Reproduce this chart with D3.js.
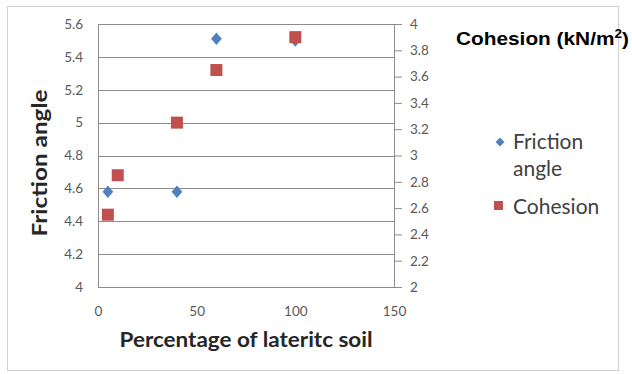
<!DOCTYPE html>
<html><head><meta charset="utf-8">
<script src="https://cdn.jsdelivr.net/npm/d3@7"></script>
<style>body{margin:0;background:#fff}svg{display:block}</style>
</head><body>
<script>
// Data
const frictionX = [5, 40, 60, 100];
const frictionY = [4.58, 4.58, 5.51, 5.5];
const cohesionX = [5, 10, 40, 60, 100];
const cohesionY = [2.55, 2.85, 3.25, 3.65, 3.9];
const xTicks = [0, 50, 100, 150];
const leftTicks = [4, 4.2, 4.4, 4.6, 4.8, 5, 5.2, 5.4, 5.6];
const rightTicks = [2, 2.2, 2.4, 2.6, 2.8, 3, 3.2, 3.4, 3.6, 3.8, 4];
const seriesNames = ["Friction angle", "Cohesion"];

const W = 632, H = 374;
const svg = d3.select("body").append("svg").attr("width", W).attr("height", H);
const font = "Lato, 'Open Sans', sans-serif";

// outer frame
svg.append("rect").attr("x", 7.5).attr("y", 6.5).attr("width", 611).attr("height", 364)
  .attr("fill", "#fff").attr("stroke", "#d0d0d0");

const x = d3.scaleLinear().domain([0, 150]).range([98, 394]);
const yL = d3.scaleLinear().domain([4, 5.6]).range([287, 24]);
const yR = d3.scaleLinear().domain([2, 4]).range([287, 24]);

// gridlines
svg.append("g").selectAll("line").data(leftTicks).join("line")
  .attr("x1", x(0)).attr("x2", x(150))
  .attr("y1", d => Math.round(yL(d)) + 0.5).attr("y2", d => Math.round(yL(d)) + 0.5)
  .attr("stroke", "#8c8c8c").attr("stroke-width", 1);
// plot border
svg.append("rect").attr("x", x(0) + 0.5).attr("y", yL(5.6) + 0.5)
  .attr("width", x(150) - x(0)).attr("height", yL(4) - yL(5.6))
  .attr("fill", "none").attr("stroke", "#8c8c8c");

// left axis labels
const gl = svg.append("g").attr("transform", `translate(${x(0)},0)`)
  .call(d3.axisLeft(yL).tickValues(leftTicks).tickSize(0).tickPadding(15).tickFormat(d3.format("~g")));
gl.select(".domain").remove();
gl.selectAll("text").attr("font-family", font).attr("font-size", 13.5).attr("fill", "#595959");

// right axis
const gr = svg.append("g").attr("transform", `translate(${x(150)},0)`)
  .call(d3.axisRight(yR).tickValues(rightTicks).tickSize(8).tickPadding(8).tickFormat(d3.format("~g")));
gr.select(".domain").attr("stroke", "#8c8c8c");
gr.selectAll(".tick line").attr("stroke", "#8c8c8c");
gr.selectAll("text").attr("font-family", font).attr("font-size", 13.5).attr("fill", "#595959").attr("text-anchor", "start");

// bottom axis labels
const gb = svg.append("g").attr("transform", `translate(0,${yL(4)})`)
  .call(d3.axisBottom(x).tickValues(xTicks).tickSize(0).tickPadding(19));
gb.select(".domain").remove();
gb.selectAll("text").attr("font-family", font).attr("font-size", 13.5).attr("fill", "#595959");

// series
const blue = "#4F81BD", red = "#C0504D";
svg.append("g").selectAll("path").data(frictionX.map((d, i) => [d, frictionY[i]])).join("path")
  .attr("d", d3.symbol(d3.symbolDiamond2, 90)())
  .attr("transform", d => `translate(${x(d[0])},${yL(d[1])}) scale(0.9,1.05)`)
  .attr("fill", blue);
svg.append("g").selectAll("rect").data(cohesionX.map((d, i) => [d, cohesionY[i]])).join("rect")
  .attr("x", d => x(d[0]) - 6).attr("y", d => yR(d[1]) - 6)
  .attr("width", 12).attr("height", 12).attr("fill", red);

// axis titles
svg.append("text").attr("transform", `translate(47,163) rotate(-90)`)
  .attr("text-anchor", "middle").attr("font-family", font).attr("font-weight", "bold")
  .attr("font-size", 21).attr("fill", "#262626")
  .attr("textLength", 147).attr("lengthAdjust", "spacingAndGlyphs").text("Friction angle");
svg.append("text").attr("x", 246).attr("y", 347)
  .attr("text-anchor", "middle").attr("font-family", font).attr("font-weight", "bold")
  .attr("font-size", 21).attr("fill", "#262626")
  .attr("textLength", 253).attr("lengthAdjust", "spacingAndGlyphs").text("Percentage of lateritc soil");

// right axis title
const rt = svg.append("text").attr("x", 0).attr("y", 0)
  .attr("font-family", "'Liberation Sans', Arial, sans-serif").attr("font-weight", "bold")
  .attr("font-size", 18.5).attr("fill", "#000");
rt.append("tspan").text("Cohesion (kN/m");
rt.append("tspan").attr("font-size", 12).attr("dy", -7).text("2");
rt.append("tspan").attr("dy", 7).text(")");
const rtw = rt.node().getBBox().width;
rt.attr("transform", `translate(456,45) scale(${173 / rtw},1)`);

// legend
const lg = svg.append("g").attr("font-family", font).attr("font-size", 21).attr("fill", "#404040");
lg.append("path").attr("d", d3.symbol(d3.symbolDiamond2, 50)())
  .attr("transform", "translate(500,142)").attr("fill", blue);
lg.append("text").attr("x", 513).attr("y", 149).text("Friction");
lg.append("text").attr("x", 513).attr("y", 176).text("angle");
lg.append("rect").attr("x", 494).attr("y", 201).attr("width", 9).attr("height", 9).attr("fill", red);
lg.append("text").attr("x", 513).attr("y", 214).text("Cohesion");
</script>
</body></html>
